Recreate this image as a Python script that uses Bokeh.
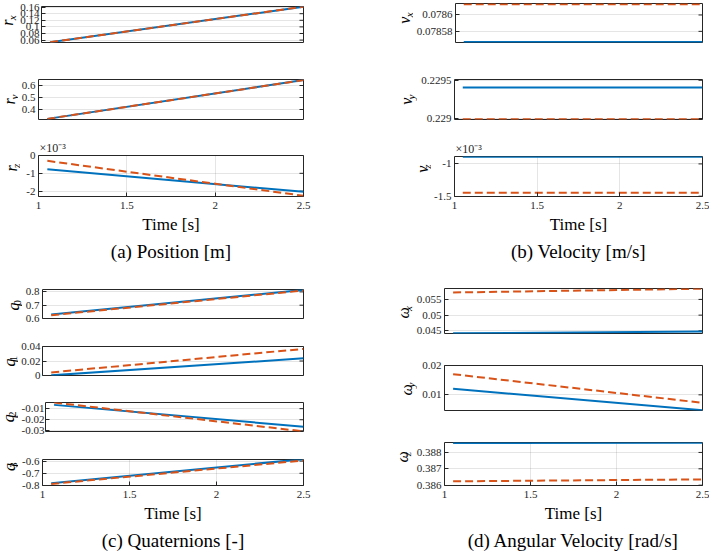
from math import pi

from bokeh.plotting import figure
from bokeh.layouts import column, row
from bokeh.models import Range1d, FixedTicker, Label, Title
from bokeh.embed import file_html
from bokeh.resources import INLINE

FONT = "Liberation Serif"
BLUE = "#0072BD"
ORANGE = "#D95319"
INK = "#262626"

# ---- time axis -------------------------------------------------------------
t = [1.05, 2.5]
time_ticks = [1, 1.5, 2, 2.5]
time_tick_labels = ["1", "1.5", "2", "2.5"]

# ---- (a) position [m] ------------------------------------------------------
rx_true = [0.0536, 0.1612]
rx_est = [0.0536, 0.1612]
rx_ticks = [0.06, 0.08, 0.10, 0.12, 0.14, 0.16]
rx_tick_labels = ["0.06", "0.08", "0.1", "0.12", "0.14", "0.16"]

ry_true = [0.322, 0.645]
ry_est = [0.322, 0.645]
ry_ticks = [0.4, 0.5, 0.6]
ry_tick_labels = ["0.4", "0.5", "0.6"]

rz_true = [-0.00077, -0.00204]
rz_est = [-0.00030, -0.00226]
rz_ticks = [-0.002, -0.001, 0.0]
rz_tick_labels = ["-2", "-1", "0"]

# ---- (b) velocity [m/s] ----------------------------------------------------
vx_true = [0.078567, 0.078567]
vx_est = [0.078613, 0.078613]
vx_ticks = [0.07858, 0.0786]
vx_tick_labels = ["0.07858", "0.0786"]

vy_true = [0.229407, 0.229407]
vy_est = [0.228991, 0.228991]
vy_ticks = [0.229, 0.2295]
vy_tick_labels = ["0.229", "0.2295"]

vz_true = [-0.000887, -0.000887]
vz_est = [-0.001447, -0.001447]
vz_ticks = [-0.0015, -0.001]
vz_tick_labels = ["-1.5", "-1"]

# ---- (c) quaternions [-] ---------------------------------------------------
q0_true = [0.630, 0.815]
q0_est = [0.625, 0.810]
q0_ticks = [0.6, 0.7, 0.8]
q0_tick_labels = ["0.6", "0.7", "0.8"]

q1_true = [0.0002, 0.0237]
q1_est = [0.0042, 0.0367]
q1_ticks = [0.0, 0.02, 0.04]
q1_tick_labels = ["0", "0.02", "0.04"]

q2_true = [-0.0066, -0.0263]
q2_est = [-0.0045, -0.0305]
q2_ticks = [-0.03, -0.02, -0.01]
q2_tick_labels = ["-0.03", "-0.02", "-0.01"]

q3_true = [-0.782, -0.584]
q3_est = [-0.787, -0.595]
q3_ticks = [-0.8, -0.7, -0.6]
q3_tick_labels = ["-0.8", "-0.7", "-0.6"]

# ---- (d) angular velocity [rad/s] ------------------------------------------
wx_true = [0.0442, 0.0448]
wx_est = [0.0572, 0.0584]
wx_ticks = [0.045, 0.05, 0.055]
wx_tick_labels = ["0.045", "0.05", "0.055"]

wy_true = [0.01205, 0.00475]
wy_est = [0.01705, 0.00727]
wy_ticks = [0.01, 0.02]
wy_tick_labels = ["0.01", "0.02"]

wz_true = [0.38857, 0.38859]
wz_est = [0.386235, 0.386353]
wz_ticks = [0.386, 0.387, 0.388]
wz_tick_labels = ["0.386", "0.387", "0.388"]


def label_strip(width, height, top, frame_h, cx, sym, sub, sub_italic):
    """Narrow blank canvas holding the rotated y label (symbol + subscript)."""
    s = figure(width=width, height=height, x_range=Range1d(0, width),
               y_range=Range1d(0, height), x_axis_type=None, y_axis_type=None,
               output_backend="svg", toolbar_location=None, min_border=0,
               min_border_left=0, min_border_right=0, min_border_top=0,
               min_border_bottom=0, outline_line_color=None,
               background_fill_color="white", border_fill_color="white")
    s.grid.visible = False
    yc = height - top - frame_h / 2.0
    s.add_layout(Label(x=cx - 1, y=yc - 3, text=sym, angle=pi / 2,
                       text_align="center", text_baseline="middle",
                       text_font=FONT, text_font_style="italic",
                       text_font_size="16px", text_color="black"))
    s.add_layout(Label(x=cx + 3, y=yc + 5, text=sub, angle=pi / 2,
                       text_align="center", text_baseline="middle",
                       text_font=FONT,
                       text_font_style="italic" if sub_italic else "normal",
                       text_font_size="11px", text_color="black"))
    return s


def panel(col_w, height, frame_left, right, top, bottom, strip_w, label_cx,
          ylim, yticks, ylabels, true_vals, est_vals, sym, sub, sub_italic=True,
          time_axis=False, caption=None, exponent=False, tick_standoff=3):
    frame_h = height - top - bottom
    p = figure(width=col_w - strip_w, height=height,
               x_range=Range1d(1, 2.5), y_range=Range1d(*ylim),
               x_axis_type="linear" if time_axis else None,
               output_backend="svg", toolbar_location=None,
               min_border_left=frame_left - strip_w, min_border_right=right,
               min_border_top=top, min_border_bottom=bottom,
               background_fill_color="white", border_fill_color="white")
    p.outline_line_color = INK
    p.outline_line_width = 1

    ticker = FixedTicker(ticks=yticks)
    ya = p.yaxis[0]
    ya.ticker = ticker
    ya.major_label_overrides = dict(zip(yticks, ylabels))
    ya.major_tick_in = 4
    ya.major_tick_out = 0
    ya.minor_tick_line_color = None
    ya.axis_line_color = None
    ya.major_tick_line_color = INK
    ya.major_label_standoff = tick_standoff
    ya.major_label_text_font = FONT
    ya.major_label_text_font_size = "11px"
    ya.major_label_text_color = INK
    p.ygrid.ticker = ticker
    p.ygrid.grid_line_color = INK
    p.ygrid.grid_line_alpha = 0.12

    if time_axis:
        xt = FixedTicker(ticks=time_ticks)
        xa = p.xaxis[0]
        xa.ticker = xt
        xa.major_label_overrides = dict(zip(time_ticks, time_tick_labels))
        xa.major_tick_in = 4
        xa.major_tick_out = 0
        xa.minor_tick_line_color = None
        xa.axis_line_color = None
        xa.major_tick_line_color = INK
        xa.major_label_standoff = 5
        xa.major_label_text_font = FONT
        xa.major_label_text_font_size = "11px"
        xa.major_label_text_color = INK
        xa.axis_label = "Time [s]"
        xa.axis_label_text_font = FONT
        xa.axis_label_text_font_size = "17px"
        xa.axis_label_text_font_style = "normal"
        xa.axis_label_text_color = "black"
        xa.axis_label_standoff = 3
        p.xgrid.ticker = xt
        p.xgrid.grid_line_color = INK
        p.xgrid.grid_line_alpha = 0.12

    if caption:
        p.add_layout(Title(text=caption, align="center", text_font=FONT,
                           text_font_size="19px", text_font_style="normal",
                           text_color="black", standoff=5), "below")

    if exponent:
        p.add_layout(Title(text="×10⁻³", align="left", text_font=FONT,
                           text_font_size="12px", text_font_style="normal",
                           text_color=INK, standoff=1, offset=1), "above")

    # mirrored tick marks along the right edge (half of each dash is clipped)
    p.scatter([2.5] * len(yticks), yticks, marker="dash", size=8,
              line_color=INK, line_width=1)

    p.line(t, true_vals, line_color=BLUE, line_width=2)
    p.line(t, est_vals, line_color=ORANGE, line_width=2, line_dash="8 4")

    strip = label_strip(strip_w, height, top, frame_h, label_cx, sym, sub, sub_italic)
    return row(strip, p, spacing=0)


LW, RW = 355, 354

a1 = panel(LW, 60, 38, 52, 6, 18, 17, 8, (0.0527, 0.1618), rx_ticks, rx_tick_labels,
           rx_true, rx_est, "r", "x", tick_standoff=2)
a2 = panel(LW, 77, 38, 52, 19, 18, 18, 10, (0.3167, 0.65), ry_ticks, ry_tick_labels,
           ry_true, ry_est, "r", "y")
a3 = panel(LW, 133, 38, 52, 18, 74, 20, 12, (-0.0023, 0.0), rz_ticks, rz_tick_labels,
           rz_true, rz_est, "r", "z", time_axis=True,
           caption="(a) Position [m]", exponent=True)

c1 = panel(LW, 62, 42, 52, 19, 14, 22, 14, (0.6, 0.818), q0_ticks, q0_tick_labels,
           q0_true, q0_est, "q", "0", sub_italic=False)
c2 = panel(LW, 57, 42, 52, 14, 14, 18, 10, (0.0, 0.04), q1_ticks, q1_tick_labels,
           q1_true, q1_est, "q", "1", sub_italic=False, tick_standoff=2)
c3 = panel(LW, 56, 42, 52, 13, 14, 18, 9, (-0.0306, -0.00446), q2_ticks, q2_tick_labels,
           q2_true, q2_est, "q", "2", sub_italic=False, tick_standoff=1)
c4 = panel(LW, 108, 42, 52, 14, 66, 18, 10, (-0.8, -0.587), q3_ticks, q3_tick_labels,
           q3_true, q3_est, "q", "3", sub_italic=False,
           time_axis=True, caption="(c) Quaternions [-]")

b1 = panel(RW, 60, 99, 7, 3, 18, 58, 50, (0.0785664, 0.078614), vx_ticks, vx_tick_labels,
           vx_true, vx_est, "v", "x")
b2 = panel(RW, 77, 99, 7, 19, 18, 62, 52, (0.228987, 0.22951), vy_ticks, vy_tick_labels,
           vy_true, vy_est, "v", "y")
b3 = panel(RW, 133, 99, 7, 19, 74, 76, 68, (-0.001505, -0.000885), vz_ticks, vz_tick_labels,
           vz_true, vz_est, "v", "z", time_axis=True,
           caption="(b) Velocity [m/s]", exponent=True)

d1 = panel(RW, 80, 89, 7, 18, 17, 58, 49, (0.04416, 0.05847), wx_ticks, wx_tick_labels,
           wx_true, wx_est, "ω", "x")
d2 = panel(RW, 75, 89, 7, 15, 15, 62, 52, (0.00466, 0.02), wy_ticks, wy_tick_labels,
           wy_true, wy_est, "ω", "y")
d3 = panel(RW, 128, 89, 7, 17, 66, 58, 48, (0.38598, 0.388608), wz_ticks, wz_tick_labels,
           wz_true, wz_est, "ω", "z", time_axis=True,
           caption="(d) Angular Velocity [rad/s]")

layout = row(column(a1, a2, a3, c1, c2, c3, c4, spacing=0),
             column(b1, b2, b3, d1, d2, d3, spacing=0), spacing=0)

open("out.html", "w").write(file_html(layout, INLINE))
